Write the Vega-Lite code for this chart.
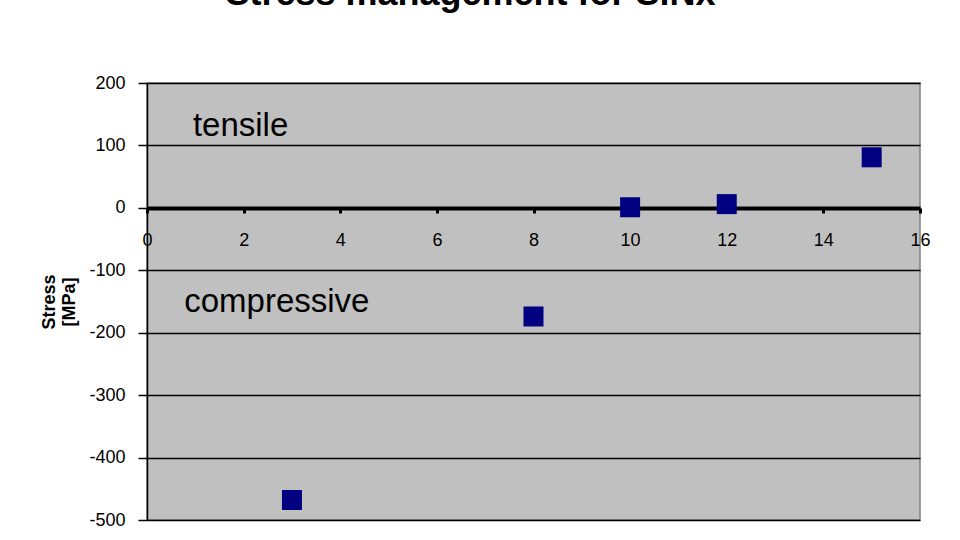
{
  "$schema": "https://vega.github.io/schema/vega-lite/v6.json",
  "width": 773,
  "height": 437,
  "autosize": {"type": "none"},
  "padding": {"left": 147, "top": 83, "right": 40, "bottom": 20},
  "background": "white",
  "title": {
    "text": "Stress management for SiNx",
    "font": "Liberation Sans",
    "fontSize": 36,
    "fontWeight": "bold",
    "color": "black",
    "anchor": "middle",
    "dx": -63,
    "offset": 61
  },
  "config": {
    "view": {"fill": "#c0c0c0", "stroke": "#808080", "strokeWidth": 1.5},
    "axis": {
      "labelFont": "Liberation Sans",
      "labelFontSize": 18,
      "labelColor": "black",
      "titleFont": "Liberation Sans",
      "titleColor": "black"
    }
  },
  "layer": [
    {
      "data": {
        "values": [
          {"thickness": 3, "stress": -468},
          {"thickness": 8, "stress": -174},
          {"thickness": 10, "stress": 1},
          {"thickness": 12, "stress": 6},
          {"thickness": 15, "stress": 81}
        ]
      },
      "mark": {"type": "square", "size": 400, "color": "#000080", "opacity": 1, "filled": true},
      "encoding": {
        "x": {
          "field": "thickness",
          "type": "quantitative",
          "scale": {"domain": [0, 16], "nice": false},
          "axis": {
            "values": [0, 2, 4, 6, 8, 10, 12, 14, 16],
            "title": null,
            "offset": -312,
            "domainColor": "black",
            "domainWidth": 4,
            "tickColor": "black",
            "tickWidth": 3,
            "tickSize": 5,
            "labelPadding": 18,
            "labelFlush": false,
            "grid": false
          }
        },
        "y": {
          "field": "stress",
          "type": "quantitative",
          "scale": {"domain": [-500, 200], "nice": false},
          "axis": {
            "values": [-500, -400, -300, -200, -100, 0, 100, 200],
            "labelExpr": "replace(datum.label, '\u2212', '-')",
            "title": ["Stress", "[MPa]"],
            "titleFontSize": 18,
            "titleFontWeight": "bold",
            "titleLineHeight": 20,
            "titlePadding": 10,
            "domainColor": "black",
            "domainWidth": 1.5,
            "tickColor": "black",
            "tickWidth": 1.5,
            "tickSize": 9,
            "labelPadding": 13,
            "grid": true,
            "gridColor": "black",
            "gridWidth": 1.5,
            "gridOpacity": 1
          }
        }
      }
    },
    {
      "data": {
        "values": [
          {"label": "tensile", "lx": 0.95, "ly": 115},
          {"label": "compressive", "lx": 0.77, "ly": -167}
        ]
      },
      "mark": {
        "type": "text",
        "font": "Liberation Sans",
        "fontSize": 33,
        "align": "left",
        "baseline": "alphabetic",
        "color": "black"
      },
      "encoding": {
        "x": {"field": "lx", "type": "quantitative"},
        "y": {"field": "ly", "type": "quantitative"},
        "text": {"field": "label"}
      }
    }
  ]
}
